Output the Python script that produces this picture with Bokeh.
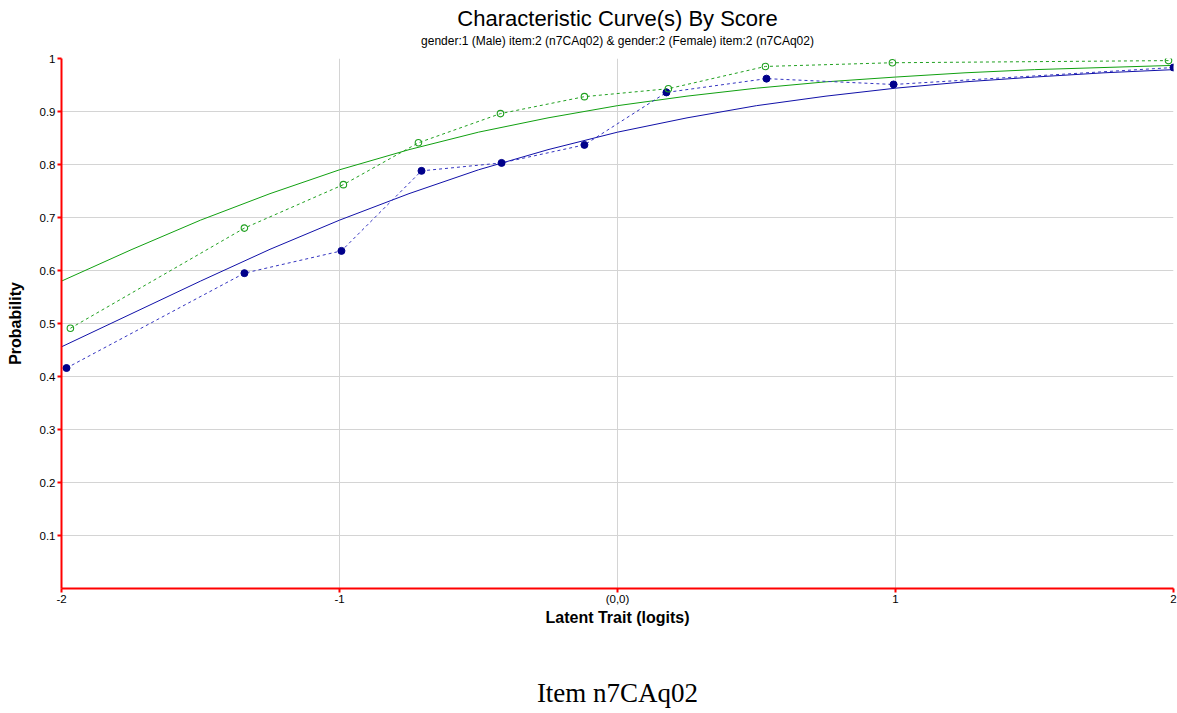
from bokeh.plotting import figure
from bokeh.models import Range1d, FixedTicker, Title, LinearAxis
from bokeh.embed import file_html
from bokeh.resources import INLINE

# Smooth model curves
curve_x = [-2.0, -1.75, -1.5, -1.25, -1.0, -0.75, -0.5, -0.25, 0.0, 0.25, 0.5, 0.75, 1.0, 1.25, 1.5, 1.75, 2.0]
male_curve = [0.456, 0.518, 0.580, 0.640, 0.695, 0.745, 0.790, 0.828, 0.861, 0.888, 0.911, 0.929, 0.944, 0.956, 0.965, 0.973, 0.979]
female_curve = [0.580, 0.639, 0.695, 0.745, 0.790, 0.828, 0.861, 0.888, 0.911, 0.929, 0.944, 0.956, 0.965, 0.973, 0.979, 0.983, 0.987]

# Observed points
male_x = [-1.982, -1.342, -0.993, -0.705, -0.417, -0.119, 0.176, 0.536, 0.993, 2.0]
male_y = [0.416, 0.595, 0.637, 0.788, 0.803, 0.837, 0.936, 0.962, 0.951, 0.983]
female_x = [-1.968, -1.342, -0.986, -0.716, -0.421, -0.119, 0.183, 0.532, 0.989, 1.982]
female_y = [0.491, 0.680, 0.762, 0.841, 0.896, 0.928, 0.943, 0.985, 0.992, 0.996]

x_ticks = [-2, -1, 0, 1, 2]
x_tick_labels = {-2: "-2", -1: "-1", 0: "(0,0)", 1: "1", 2: "2"}
y_ticks = [0.1, 0.2, 0.3, 0.4, 0.5, 0.6, 0.7, 0.8, 0.9, 1.0]
y_tick_labels = {0.1: "0.1", 0.2: "0.2", 0.3: "0.3", 0.4: "0.4", 0.5: "0.5",
                 0.6: "0.6", 0.7: "0.7", 0.8: "0.8", 0.9: "0.9", 1.0: "1"}

title_text = "Characteristic Curve(s) By Score"
subtitle_text = "gender:1 (Male) item:2 (n7CAq02) & gender:2 (Female) item:2 (n7CAq02)"
x_label = "Latent Trait (logits)"
y_label = "Probability"
caption = "Item n7CAq02"

W, H = 1177, 713
p = figure(width=W, height=H, output_backend="svg", toolbar_location=None,
           x_range=Range1d(-2, 2), y_range=Range1d(0, 1),
           min_border_left=61, min_border_right=4, min_border_top=58, min_border_bottom=H - 588)
p.outline_line_color = None
p.background_fill_color = "white"
p.border_fill_color = "white"

FONT = "Liberation Sans"

for ax in (p.xaxis[0], p.yaxis[0]):
    ax.axis_line_color = "#ff0000"
    ax.axis_line_width = 2
    ax.major_tick_line_color = "#ff0000"
    ax.major_tick_line_width = 2
    ax.major_tick_out = 4
    ax.major_tick_in = 0
    ax.minor_tick_line_color = None
    ax.major_label_text_font = FONT
    ax.major_label_text_font_size = "11.5px"
    ax.major_label_text_color = "#000000"
    ax.axis_label_text_font = FONT
    ax.axis_label_text_font_size = "16px"
    ax.axis_label_text_font_style = "bold"
    ax.axis_label_text_color = "#000000"

p.xaxis.ticker = FixedTicker(ticks=x_ticks)
p.xaxis.major_label_overrides = x_tick_labels
p.yaxis.ticker = FixedTicker(ticks=y_ticks)
p.yaxis.major_label_overrides = y_tick_labels
p.xaxis.axis_label = x_label
p.yaxis.axis_label = y_label
p.xaxis.major_label_standoff = 0
p.yaxis.major_label_standoff = 2
p.xaxis.axis_label_standoff = 1
p.yaxis.axis_label_standoff = 13

p.xgrid.ticker = FixedTicker(ticks=[-1, 0, 1, 2])
p.ygrid.ticker = FixedTicker(ticks=y_ticks)
p.xgrid.grid_line_color = "#d4d4d4"
p.ygrid.grid_line_color = "#d4d4d4"

BLUE = "#1010a8"
GREEN = "#10a010"

p.line(curve_x, male_curve, line_color=BLUE, line_width=1)
p.line(curve_x, female_curve, line_color=GREEN, line_width=1)
p.line(male_x, male_y, line_color="#3434c0", line_width=1, line_dash="3 3")
p.line(female_x, female_y, line_color="#20a020", line_width=1, line_dash="3 3")
p.scatter(male_x, male_y, size=7, marker="circle", fill_color="#00008b", line_color="#00008b")
p.scatter(female_x, female_y, size=6.5, marker="circle", fill_color=None, line_color="#20a020", line_width=1.1)


def text_axis(label, font, size, standoff, style="normal"):
    a = LinearAxis(ticker=FixedTicker(ticks=[]), axis_label=label)
    a.axis_line_color = None
    a.major_tick_line_color = None
    a.minor_tick_line_color = None
    a.major_tick_out = 0
    a.major_label_standoff = 0
    a.axis_label_standoff = standoff
    a.axis_label_text_font = font
    a.axis_label_text_font_size = size
    a.axis_label_text_font_style = style
    a.axis_label_text_color = "#000000"
    return a


# subtitle just above the frame, then the main title above it
p.add_layout(text_axis(subtitle_text, FONT, "12px", 11), "above")
p.add_layout(Title(text=title_text, align="center", text_font=FONT, text_font_size="22px",
                   text_font_style="normal", text_color="#000000", standoff=0), "above")
# caption below the x axis
p.add_layout(text_axis(caption, "Liberation Serif", "27px", 49), "below")

open("out.html", "w").write(file_html(p, INLINE))
